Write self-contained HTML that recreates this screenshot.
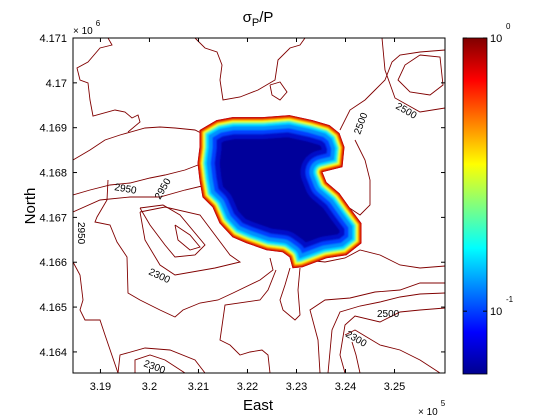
<!DOCTYPE html>
<html><head><meta charset="utf-8"><style>
html,body{margin:0;padding:0;background:#fff;}
svg{display:block;font-family:"Liberation Sans",sans-serif;}
</style></head><body>
<svg id="chart" width="560" height="420" viewBox="0 0 560 420">
<defs>
<linearGradient id="jet" x1="0" y1="1" x2="0" y2="0">
<stop offset="0" stop-color="#00008f"/><stop offset="0.125" stop-color="#0000ff"/>
<stop offset="0.375" stop-color="#00ffff"/><stop offset="0.625" stop-color="#ffff00"/>
<stop offset="0.875" stop-color="#ff0000"/><stop offset="1" stop-color="#800000"/>
</linearGradient>
<clipPath id="plotclip"><rect x="73" y="38" width="372" height="335"/></clipPath>
<filter id="soft"><feGaussianBlur stdDeviation="0.8"/></filter>
</defs>
<rect x="73" y="38" width="372" height="335" fill="#fff"/>
<g id="contours" clip-path="url(#plotclip)" fill="none" stroke="#800000" stroke-width="0.9"></g>
<g id="blob"></g>
<g id="labels" font-size="10" fill="#000">
<text x="114" y="190" transform="rotate(10 114 190)">2950</text>
<text x="160" y="200" transform="rotate(-60 160 200)">2950</text>
<text x="78" y="222" transform="rotate(90 78 222)">2950</text>
<text x="148" y="274" transform="rotate(25 148 274)">2300</text>
<text x="360" y="135" transform="rotate(-70 360 135)">2500</text>
<text x="395" y="108" transform="rotate(30 395 108)">2500</text>
<text x="377" y="317">2500</text>
<text x="345" y="336" transform="rotate(30 345 336)">2300</text>
<text x="143" y="366" transform="rotate(20 143 366)">2300</text>
</g>
<rect x="73" y="38" width="372" height="335" fill="none" stroke="#000" stroke-width="1"/>
<g id="axes" font-size="11" fill="#000"></g>
<text x="258" y="22" font-size="15" text-anchor="middle">σ<tspan font-size="11" dy="4">P</tspan><tspan dy="-4">/P</tspan></text>
<text x="258" y="410" font-size="15" text-anchor="middle">East</text>
<text x="35" y="206" font-size="15" text-anchor="middle" transform="rotate(-90 35 206)">North</text>
<text x="73" y="34" font-size="10">× 10<tspan font-size="8" dy="-8" dx="3">6</tspan></text>
<text x="418" y="415" font-size="10">× 10<tspan font-size="8" dy="-9" dx="3">5</tspan></text>
<rect x="463" y="38" width="24" height="336" fill="url(#jet)" stroke="#000" stroke-width="0.8"/>
<g id="cbticks" font-size="11"></g>
</svg>
<script>
const xTicks=[3.19,3.20,3.21,3.22,3.23,3.24,3.25];
const xTickLabels=["3.19","3.2","3.21","3.22","3.23","3.24","3.25"];
const yTicks=[4.164,4.165,4.166,4.167,4.168,4.169,4.170,4.171];
const yTickLabels=["4.164","4.165","4.166","4.167","4.168","4.169","4.17","4.171"];
const xMin=3.1844, xMax=3.2603, yMin=4.16353, yMax=4.171;
const cbTicks=[-1,0];
const cbTickLabels=["10","10"];
const cbExps=["-1","0"];
const cbMin=-1.23, cbMax=0;
const blobE=[321020,321368,321694,322306,322857,323327,323673,323878,323980,323939,323531,323612,323878,324082,324327,324327,324020,323612,323122,322918,322857,322714,322388,321980,321694,321429,321286,321082,321020,320980,321020];
const blobN=[4168947,4169170,4169237,4169237,4169281,4169170,4169058,4168880,4168567,4168121,4168009,4167786,4167540,4167228,4166871,4166424,4166156,4166090,4165889,4165866,4166112,4166224,4166268,4166424,4166558,4166871,4167228,4167451,4167830,4168210,4168567];
const hotE=[320720];const hotN=[4168190];

const X=v=>73+(v-xMin)/(xMax-xMin)*372;
const Y=v=>373-(v-yMin)/(yMax-yMin)*335;
const XE=m=>X(m/1e5), YN=m=>Y(m/1e6);
const CB=v=>374-(v-cbMin)/(cbMax-cbMin)*336;
const NS="http://www.w3.org/2000/svg";
function mk(t,a,p){const e=document.createElementNS(NS,t);for(const k in a)e.setAttribute(k,a[k]);p.appendChild(e);return e;}
const axes=document.getElementById('axes');
xTicks.forEach((v,i)=>{const x=X(v);
 const t1=mk('line',{x1:x,x2:x,y1:373,y2:369,stroke:'#000'},axes);
 
 
 const t2=mk('line',{x1:x,x2:x,y1:38,y2:42,stroke:'#000'},axes);
 
 
 const tx=mk('text',{x:x,y:390,'text-anchor':'middle'},axes);tx.textContent=xTickLabels[i];
 
 
});
yTicks.forEach((v,i)=>{const y=Y(v);
 const t1=mk('line',{x1:73,x2:77,y1:y,y2:y,stroke:'#000'},axes);
 
 
 const t2=mk('line',{x1:441,x2:445,y1:y,y2:y,stroke:'#000'},axes);
 
 
 const tx=mk('text',{x:67,y:y+4,'text-anchor':'end'},axes);tx.textContent=yTickLabels[i];
 
 
});
const cbg=document.getElementById('cbticks');
cbTicks.forEach((v,i)=>{const y=CB(v);
 mk('line',{x1:463,x2:467,y1:y,y2:y,stroke:'#000'},cbg);
 mk('line',{x1:483,x2:487,y1:y,y2:y,stroke:'#000'},cbg);
 const tx=mk('text',{x:490,y:y+4},cbg);tx.textContent=cbTickLabels[i];
 
 
 const ex=mk('text',{x:506,y:y-9,'font-size':'8'},cbg);ex.textContent=cbExps[i];
 
 
});
const cont=["108,38 112,45 100,48 88,62 77,68 80,80 88,83 90,100 93,116 115,110 125,112 132,118 138,115 140,122 128,132",
"73,160 90,150 105,140 120,135 145,128 160,127 175,128 195,130 203,134",
"195,38 205,48 217,52 222,65 220,80 223,100 240,97 258,90 275,80 278,60 290,48 300,45 305,38",
"270,85 280,82 287,92 280,100 272,95 270,85",
"382,38 385,70 395,98 420,112 445,108",
"340,130 350,110 365,100 375,90 385,80 392,62 400,55 420,52 445,50",
"420,55 440,57 443,85 430,95 410,92 398,80 405,65 420,55",
"73,195 90,190 110,185 130,183 150,178 165,175 185,170 198,165",
"73,212 100,200 130,197 160,197 185,190 202,186",
"108,180 107,200 97,217 95,222 110,225 117,242 127,257 128,293 140,300 160,310 175,317 183,310 200,303 218,300 233,293 260,280 273,270 270,258",
"140,212 165,207 200,215 215,235 230,255 240,262 215,268 175,275 160,265 145,240 140,212",
"140,208 163,205 180,215 205,245 195,255 175,257 165,245 150,225 140,208",
"175,225 190,235 200,247 190,250 178,240 175,225",
"73,262 80,275 83,300 80,310 85,320 100,320 105,335 118,373",
"118,373 120,355 145,348 170,350 195,360 205,373",
"135,373 135,360 150,355 165,360 185,373",
"290,268 285,285 280,300 283,310 295,320 300,315 298,290 300,268",
"276,270 268,290 260,300 225,305 220,340 230,345 240,355 250,352 262,350 268,355 270,373",
"320,373 318,340 310,310 325,300 350,298 375,292 400,290 420,283 445,283",
"328,373 332,330 340,312 360,306 380,302 400,297 420,294 445,293",
"345,373 340,355 345,325 355,316 380,322 400,312 420,310 445,308",
"345,335 355,330 380,345 400,350 420,360 440,373",
"360,373 356,355 352,342",
"305,260 325,262 345,258 360,250 380,255 400,265 420,268 445,266",
"345,205 360,215 370,205 370,180 365,160 355,140"];
const cg=document.getElementById('contours');
cont.forEach(p=>{const e=mk('polyline',{points:p},cg);
 
 });
const bg=document.getElementById('blob');
const pts=blobE.map((e,i)=>XE(e).toFixed(1)+','+YN(blobN[i]).toFixed(1)).join(' ');
const cp=mk('clipPath',{id:'blobclip'},document.querySelector('defs'));
mk('polygon',{points:pts},cp);
const inner=mk('g',{'clip-path':'url(#blobclip)'},bg);
mk('polygon',{points:pts,fill:'#00009a'},inner);
const layers=[[44,'#0010c8'],[34,'#0040ff'],[26,'#0090ff'],[18,'#00e0ff'],[13,'#80ff80'],[10,'#ffff00'],[7,'#ff8000'],[4,'#d00000']];
const lg=mk('g',{filter:'url(#soft)'},inner);
layers.forEach(l=>mk('polygon',{points:pts,fill:'none',stroke:l[1],'stroke-width':l[0],'stroke-linejoin':'round'},lg));
hotE.forEach((e,i)=>mk('circle',{cx:XE(e),cy:YN(hotN[i]),r:3,fill:'#40c0ff',filter:'url(#soft)'},inner));
</script>
</body></html>
